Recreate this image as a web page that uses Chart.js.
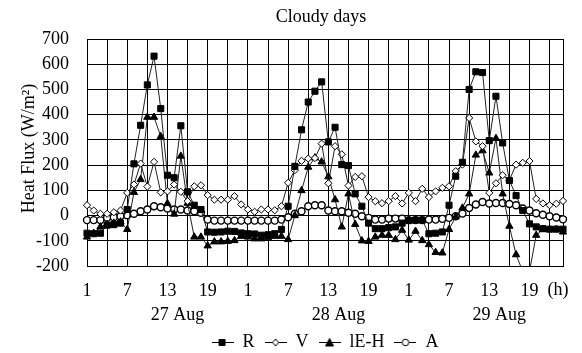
<!DOCTYPE html>
<html>
<head>
<meta charset="utf-8">
<script src="https://cdn.jsdelivr.net/npm/chart.js@4.4.0/dist/chart.umd.min.js"></script>
<style>
  html, body { margin: 0; padding: 0; background: #fff; }
  #wrap { width: 582px; height: 353px; }
</style>
</head>
<body>
<div id="wrap"><canvas id="chart" width="582" height="353"></canvas></div>
<script>
// ---- data ----
const chartTitle = 'Cloudy days';
const dayLabels = ['27 Aug', '28 Aug', '29 Aug'];
const hoursOfDay = [1, 2, 3, 4, 5, 6, 7, 8, 9, 10, 11, 12, 13, 14, 15, 16, 17, 18, 19, 20, 21, 22, 23, 24];
const tickHours = ['1', '7', '13', '19'];
const yTitle = 'Heat Flux (W/m²)';

const seriesR = [
  -70, -72, -70, -38, -36, -30, 24, 205, 358, 518, 632, 424, 160, 150, 356, 94, 41, 24, -65, -66, -65, -62, -63, -69,
  -72, -73, -78, -76, -72, -55, 37, 195, 340, 450, 493, 530, 292, 350, 202, 198, 86, 37, -30, -52, -52, -48, -45, -30,
  -20, -18, -18, -72, -70, -65, 41, 156, 211, 500, 570, 567, 297, 473, 288, 139, 79, 20, -33, -45, -52, -54, -54, -54
];
const seriesV = [
  41, 20, 7, 7, 13, 20, 90, 123, 206, 115, 213, 92, 96, 123, 94, 57, 116, 120, 81, 63, 63, 63, 77, 44,
  24, 15, 24, 24, 21, 37, 130, 180, 217, 226, 228, 285, 128, 275, 243, 119, 153, 156, 73, 57, 49, 57, 77, 48,
  90, 57, 106, 73, 96, 110, 116, 176, 202, 387, 294, 275, 90, 128, 160, 140, 202, 209, 216, 66, 48, 41, 47, 58
];
const seriesLEH = [
  -85, -70, -45, -35, -30, -25, -55, 92, 143, 390, 390, 314, 48, 6, 236, 49, -85, -85, -120, -104, -104, -102, -99, -82,
  -85, -92, -92, -88, -82, -82, -95, 0, 99, 192, 229, 213, 154, 63, -45, 86, -35, -100, -102, -85, -78, -78, -95, -58,
  -97, -62, -99, -115, -146, -148, -55, -5, 30, 86, 240, 257, 169, 306, 86, -42, -155, -222, -222, -78, -55, -55, -55, -65
];
const seriesA = [
  -18, -18, -18, -9, -7, -3, 1, 7, 17, 24, 37, 33, 28, 24, 24, 20, 17, 11, -16, -20, -20, -20, -20, -20,
  -20, -20, -20, -20, -20, -16, -7, 7, 17, 37, 41, 41, 20, 17, 17, 11, 7, -3, -9, -16, -16, -12, -12, -12,
  -18, -18, -18, -16, -16, -13, -9, -3, 8, 30, 44, 54, 48, 50, 50, 46, 41, 28, 20, 9, 3, -3, -8, -15
];

// 72 hourly categories, 3 days
const categories = [];
dayLabels.forEach(function(day) {
  hoursOfDay.forEach(function(h) { categories.push(day + ' ' + h); });
});

const serif = "'Liberation Serif', 'Times New Roman', serif";

// legend icon: short line with the marker in the middle
function legendIcon(style, filled) {
  const c = document.createElement('canvas');
  c.width = 22; c.height = 12;
  const g = c.getContext('2d');
  g.strokeStyle = '#000';
  g.lineWidth = 1;
  g.beginPath(); g.moveTo(0, 6.5); g.lineTo(22, 6.5); g.stroke();
  g.fillStyle = filled ? '#000' : '#fff';
  g.beginPath();
  if (style === 'rect') {
    g.rect(7.5, 3.5, 6, 6);
  } else if (style === 'rectRot') {
    g.moveTo(11, 3); g.lineTo(14, 6.5); g.lineTo(11, 10); g.lineTo(8, 6.5); g.closePath();
  } else if (style === 'triangle') {
    g.moveTo(11, 2.5); g.lineTo(15, 10); g.lineTo(7, 10); g.closePath();
  } else {
    g.arc(11, 6.5, 3.3, 0, Math.PI * 2);
  }
  g.fill(); g.stroke();
  return c;
}

function makeSet(label, data, style, filled, radius, bw) {
  return {
    label: label,
    data: data,
    borderColor: '#222',
    borderWidth: 1,
    pointStyle: style,
    pointRadius: radius,
    pointBorderColor: '#000',
    pointBackgroundColor: filled ? '#000' : '#fff',
    pointBorderWidth: bw,
    tension: 0,
    icon: legendIcon(style, filled)
  };
}

// title, day names under the hour ticks, unit of the x axis, y axis title
const extraText = {
  id: 'extraText',
  afterDraw(chart) {
    const ctx = chart.ctx;
    const area = chart.chartArea;
    const x = chart.scales.x;
    ctx.save();
    ctx.fillStyle = '#000';
    ctx.font = '18px ' + serif;
    ctx.textAlign = 'center';
    ctx.textBaseline = 'middle';
    ctx.fillText(chartTitle, (area.left + area.right) / 2 - 4, 17);
    dayLabels.forEach(function(d, k) {
      ctx.fillText(d, x.getPixelForDecimal((13.5 + 24 * k) / 71), 315);
    });
    ctx.fillText('(h)', x.right - 5, 290);
    ctx.translate(29, (area.top + area.bottom) / 2 - 4);
    ctx.rotate(-Math.PI / 2);
    ctx.fillText(yTitle, 0, 0);
    ctx.restore();
  }
};

new Chart(document.getElementById('chart'), {
  type: 'line',
  data: {
    labels: categories,
    datasets: [
      makeSet('R', seriesR, 'rect', true, 4.3, 1),
      makeSet('V', seriesV, 'rectRot', false, 3.6, 1),
      makeSet('lE-H', seriesLEH, 'triangle', true, 4.2, 1),
      makeSet('A', seriesA, 'circle', false, 3.5, 1.4)
    ]
  },
  options: {
    responsive: false,
    animation: false,
    devicePixelRatio: 1,
    layout: { padding: { top: 39, right: 19, left: 0, bottom: -8 } },
    plugins: {
      title: { display: false },
      tooltip: { enabled: false },
      legend: {
        position: 'bottom',
        fullSize: false,
        labels: {
          usePointStyle: true,
          pointStyleWidth: 22,
          padding: 10,
          color: '#000',
          font: { family: serif, size: 18 },
          generateLabels: function(chart) {
            const items = Chart.defaults.plugins.legend.labels.generateLabels(chart);
            items.forEach(function(it) {
              it.pointStyle = chart.data.datasets[it.datasetIndex].icon;
            });
            return items;
          }
        }
      }
    },
    scales: {
      x: {
        type: 'category',
        offset: false,
        afterFit: function(scale) { scale.height = 57; },
        grid: {
          drawTicks: false,
          lineWidth: 1,
          color: function(c) {
            return (c.index % 3 === 0 || c.index === 71) ? '#000' : 'rgba(0,0,0,0)';
          }
        },
        border: { color: '#000' },
        ticks: {
          autoSkip: false,
          maxRotation: 0,
          padding: 14,
          color: '#000',
          font: { family: serif, size: 18 },
          callback: function(value, index) {
            return index % 6 === 0 ? tickHours[(index % 24) / 6] : '';
          }
        }
      },
      y: {
        min: -200,
        max: 700,
        afterFit: function(scale) { scale.width = 87; },
        grid: { drawTicks: false, color: '#000', lineWidth: 1 },
        border: { color: '#000' },
        ticks: {
          stepSize: 100,
          autoSkip: false,
          padding: 18,
          color: '#000',
          font: { family: serif, size: 18 }
        }
      }
    }
  },
  plugins: [extraText]
});
</script>
</body>
</html>
